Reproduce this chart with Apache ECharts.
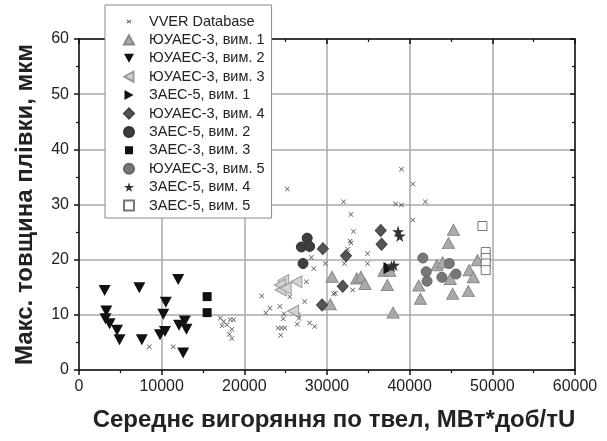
<!DOCTYPE html>
<html><head><meta charset="utf-8">
<script src="https://cdn.jsdelivr.net/npm/echarts@6/dist/echarts.min.js"></script>
<style>html,body{margin:0;padding:0;background:#fff}#c{width:607px;height:441px}</style>
</head><body><div id="c"></div>
<script>
const xTitle = 'Середнє вигоряння по твел, МВт*доб/тU';
const yTitle = 'Макс. товщина плівки, мкм';
const seriesNames = ['VVER Database','ЮУАЕС-3, вим. 1','ЮУАЕС-3, вим. 2','ЮУАЕС-3, вим. 3','ЗАЕС-5, вим. 1','ЮУАЕС-3, вим. 4','ЗАЕС-5, вим. 2','ЗАЕС-3, вим. 3','ЮУАЕС-3, вим. 5','ЗАЕС-5, вим. 4','ЗАЕС-5, вим. 5'];

const vverDatabase = [[8500,4.2],[11400,4.2],[17100,9.4],[17500,8.8],[18300,9.1],[18700,9.1],[17300,8.0],[17900,8.2],[18500,7.4],[18200,6.5],[18500,5.7],
[25200,32.8],[28100,20.4],[28400,18.4],[29800,19.3],[27500,16.0],[25500,13.3],[22100,13.4],[27300,12.4],[31000,13.9],[24300,11.5],[23100,11.2],[22600,10.4],[24800,10.2],[24700,9.3],[26500,10.0],[26600,9.4],[26400,8.3],[27900,8.5],[28500,7.9],[24100,7.6],[24500,7.6],[24900,7.6],[24400,6.3],
[39000,36.4],[40400,33.7],[32000,30.5],[38300,30.1],[39000,29.9],[41900,30.5],[40400,27.2],[32900,28.2],[33200,25.1],[32800,23.4],[32900,23.0],[32500,21.9],[34900,21.1],[34900,19.3],[32100,19.3],[33100,14.5],[30800,13.8]];
const yuaes3m1 = [[30600,16.9],[30400,11.9],[33600,16.6],[34100,16.9],[34600,15.6],[36900,18.0],[37600,18.0],[37300,15.4],[38000,10.4],[41100,15.3],[41300,12.9],[43300,19.0],[44000,19.5],[44900,16.5],[45300,25.4],[44700,23.0],[48200,19.9],[47200,18.1],[47700,16.8],[47100,14.3],[45200,13.8]];
const yuaes3m2 = [[3100,14.4],[7300,14.9],[12000,16.4],[10500,12.3],[3300,10.7],[10200,10.1],[3200,9.3],[3700,8.4],[4600,7.2],[4900,5.5],[7600,5.5],[9800,6.4],[10400,7.0],[12100,8.1],[12800,8.9],[13000,7.4],[12600,3.1]];
const yuaes3m3 = [[24700,16.2],[24300,15.4],[26300,16.0],[24400,14.5],[25000,14.8],[25900,10.7]];
const zaes5m1 = [[37500,18.5]];
const yuaes3m4 = [[29500,22.0],[32300,20.7],[31900,15.2],[29400,11.8],[36500,25.3],[36600,22.8]];
const zaes5m2 = [[27600,23.9],[26900,22.3],[27900,22.4],[27100,19.3]];
const zaes3m3 = [[15500,13.3],[15500,10.4]];
const yuaes3m5 = [[41600,20.3],[42000,17.8],[42100,16.1],[43900,16.8],[44800,19.3],[45600,17.4]];
const zaes5m4 = [[38600,25.1],[38800,24.3],[37800,18.8],[38100,19.0]];
const zaes5m5 = [[48800,26.1],[49200,21.4],[49200,20.3],[49200,19.3],[49200,18.1]];

const xPath = 'path://M1,0L5,4L9,0L10,1L6,5L10,9L9,10L5,6L1,10L0,9L4,5L0,1Z';
const xLegendPath = 'path://M0,0L0.01,0L0,0.01Z M20,20L19.99,20L20,19.99Z M6,6L10,9L14,6L15,7L12,10L15,13L14,14L10,11L6,14L5,13L8,10L5,7Z';
const upPath = 'path://M5,0L10,9L0,9Z';
const downPath = 'path://M0,0L10,0L5,9Z';
const leftPath = 'path://M0,5L9,0L9,10Z';
const rightPath = 'path://M0,0L9,5L0,10Z';
const starPath = 'path://M50,0L61,35L98,35L68,57L79,91L50,70L21,91L32,57L2,35L39,35Z';
const smallRectPath = 'path://M0,0L0.01,0L0,0.01Z M10,10L9.99,10L10,9.99Z M1,1L9,1L9,9L1,9Z';

const dataSets = [vverDatabase,yuaes3m1,yuaes3m2,yuaes3m3,zaes5m1,yuaes3m4,zaes5m2,zaes3m3,yuaes3m5,zaes5m4,zaes5m5];
const styles = [
  {symbol:xPath,leg:xLegendPath,size:5,color:'#555',border:'#ccc',bw:0},
  {symbol:upPath,leg:upPath,size:[12,11],color:'#aaa',border:'#888',bw:1},
  {symbol:downPath,leg:downPath,size:[12,11],color:'#111',border:'#111',bw:0},
  {symbol:leftPath,leg:leftPath,size:[11,12],color:'#d4d4d4',border:'#999',bw:1},
  {symbol:rightPath,leg:rightPath,size:[11,12],color:'#111',border:'#111',bw:0},
  {symbol:'diamond',leg:'diamond',size:[11,12],color:'#555',border:'#444',bw:1},
  {symbol:'circle',leg:'circle',size:10,color:'#3d3d3d',border:'#333',bw:1},
  {symbol:'rect',leg:smallRectPath,size:9,color:'#111',border:'#111',bw:0},
  {symbol:'circle',leg:'circle',size:10,color:'#777',border:'#666',bw:1},
  {symbol:starPath,leg:starPath,size:12,color:'#333',border:'#222',bw:0},
  {symbol:'rect',leg:'rect',size:9,color:'#fff',border:'#777',bw:1}
];

const series = dataSets.map((d,i)=>({
  name: seriesNames[i], type:'scatter', data:d,
  symbol: styles[i].symbol, symbolSize: styles[i].size,
  itemStyle:{color:styles[i].color,borderColor:styles[i].border,borderWidth:styles[i].bw,opacity:1},
  xAxisIndex:0,yAxisIndex:0
}));

const chart = echarts.init(document.getElementById('c'),null,{renderer:'canvas'});
const font = 'Liberation Sans, Arial, sans-serif';
chart.setOption({
  animation:false,
  backgroundColor:'#fff',
  textStyle:{fontFamily:font},
  grid:{left:79,right:32,top:39,bottom:71},
  legend:{
    orient:'vertical', left:105, top:5,
    data:seriesNames.map((n,i)=>({name:n,icon:styles[i].leg})),
    backgroundColor:'#fff', borderColor:'#888', borderWidth:1,
    padding:[9,7,5,18], itemGap:3.4, itemWidth:10, itemHeight:10,
    textStyle:{fontSize:14.5,color:'#222',fontFamily:font,padding:[0,0,0,10]}
  },
  xAxis:[{
    type:'value', min:0, max:60000, interval:10000,
    name:xTitle, nameLocation:'middle', nameGap:38,
    nameTextStyle:{fontSize:24,fontWeight:'bold',color:'#222',fontFamily:font,padding:[0,0,0,14]},
    axisLine:{show:true,onZero:false,lineStyle:{color:'#111',width:1.5}},
    axisTick:{show:true,length:5,lineStyle:{color:'#111',width:1.5}},
    minorTick:{show:true,splitNumber:2,length:3,lineStyle:{color:'#111',width:1.2}},
    axisLabel:{fontSize:16,color:'#222',margin:9,fontFamily:font,formatter:v=>String(v)},
    splitLine:{show:true,lineStyle:{color:'#aaa',width:1.5}}
  },{
    type:'value', min:0, max:60000, interval:10000, position:'top',
    axisLine:{show:true,onZero:false,lineStyle:{color:'#111',width:1.5}},
    axisTick:{show:true,inside:true,length:5,lineStyle:{color:'#111',width:1.5}},
    minorTick:{show:true,splitNumber:2,length:3,lineStyle:{color:'#111',width:1.2}},
    axisLabel:{show:false}, splitLine:{show:false}
  }],
  yAxis:[{
    type:'value', min:0, max:60, interval:10,
    name:yTitle, nameLocation:'middle', nameGap:42,
    nameTextStyle:{fontSize:24,fontWeight:'bold',color:'#222',fontFamily:font},
    axisLine:{show:true,onZero:false,lineStyle:{color:'#111',width:1.5}},
    axisTick:{show:true,length:5,lineStyle:{color:'#111',width:1.5}},
    minorTick:{show:true,splitNumber:2,length:3,lineStyle:{color:'#111',width:1.2}},
    axisLabel:{fontSize:16,color:'#222',margin:10,fontFamily:font},
    splitLine:{show:true,lineStyle:{color:'#aaa',width:1.5}}
  },{
    type:'value', min:0, max:60, interval:10, position:'right',
    axisLine:{show:true,onZero:false,lineStyle:{color:'#111',width:1.5}},
    axisTick:{show:true,inside:true,length:5,lineStyle:{color:'#111',width:1.5}},
    minorTick:{show:true,splitNumber:2,length:3,lineStyle:{color:'#111',width:1.2}},
    axisLabel:{show:false}, splitLine:{show:false}
  }],
  series: series
});
</script></body></html>
